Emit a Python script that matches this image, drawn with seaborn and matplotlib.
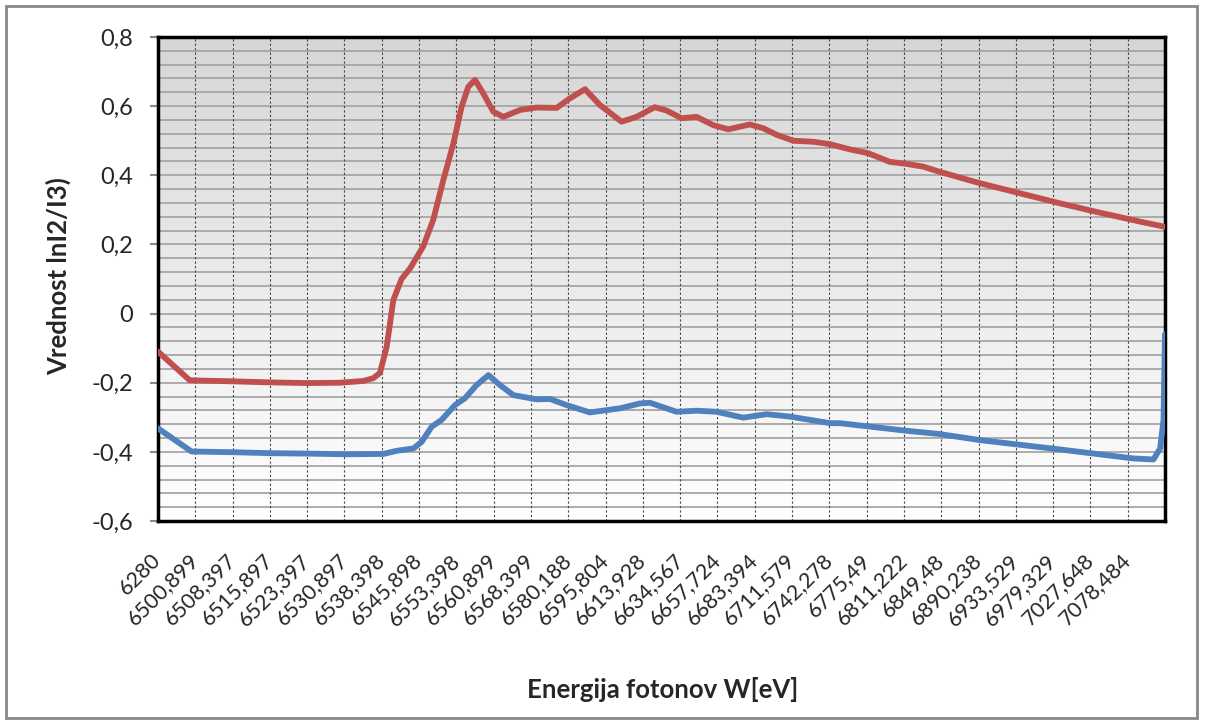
import numpy as np
import seaborn as sns
import matplotlib.pyplot as plt
from matplotlib.ticker import MultipleLocator, FixedLocator
from matplotlib.patches import Rectangle
from matplotlib.colors import LinearSegmentedColormap

# category labels (every 10th energy point) on the x axis
energy_labels = ["6280", "6500,899", "6508,397", "6515,897", "6523,397", "6530,897",
                 "6538,398", "6545,898", "6553,398", "6560,899", "6568,399", "6580,188",
                 "6595,804", "6613,928", "6634,567", "6657,724", "6683,394", "6711,579",
                 "6742,278", "6775,49", "6811,222", "6849,48", "6890,238", "6933,529",
                 "6979,329", "7027,648", "7078,484"]

# red series, position in label units
red_x = [0, 0.85, 2.0, 3.0, 4.0, 4.88, 5.5, 5.77, 5.95, 6.13, 6.31, 6.53, 6.76,
         7.11, 7.38, 7.65, 7.92, 8.14, 8.32, 8.5, 8.72, 8.99, 9.26, 9.71, 10.15,
         10.69, 11.05, 11.45, 11.85, 12.43, 12.83, 13.32, 13.64, 14.04, 14.44,
         14.89, 15.29, 15.87, 16.23, 16.59, 17.03, 17.57, 18.02, 18.55, 19.04,
         19.62, 20.07, 20.52, 20.96, 22.04, 23.11, 24.18, 25.25, 26.33, 27.0]
red_y = [-0.11, -0.193, -0.196, -0.199, -0.201, -0.2, -0.195, -0.187, -0.172, -0.097,
         0.039, 0.1, 0.131, 0.194, 0.271, 0.386, 0.492, 0.598, 0.656, 0.676, 0.637,
         0.584, 0.569, 0.589, 0.596, 0.595, 0.623, 0.649, 0.603, 0.555, 0.569,
         0.597, 0.587, 0.565, 0.569, 0.545, 0.533, 0.547, 0.536, 0.517, 0.5, 0.497,
         0.49, 0.475, 0.464, 0.439, 0.433, 0.425, 0.41, 0.377, 0.348, 0.319, 0.292,
         0.266, 0.251]

# blue series
blue_x = [0, 0.9, 2.0, 3.09, 4.0, 5.06, 6.04, 6.4, 6.85, 7.07, 7.34, 7.6, 7.96, 8.23,
          8.54, 8.86, 9.17, 9.53, 10.15, 10.51, 10.96, 11.58, 12.39, 12.92, 13.19,
          13.9, 14.44, 14.97, 15.69, 16.32, 16.94, 18.02, 18.28, 19.09, 20.07, 20.92,
          22.04, 24.18, 26.15, 26.69, 26.87, 26.96, 27.0]
blue_y = [-0.332, -0.399, -0.401, -0.404, -0.405, -0.407, -0.406, -0.397, -0.39, -0.371,
          -0.327, -0.308, -0.265, -0.245, -0.207, -0.178, -0.207, -0.236, -0.248,
          -0.247, -0.265, -0.286, -0.274, -0.26, -0.258, -0.284, -0.281, -0.284,
          -0.301, -0.291, -0.298, -0.317, -0.317, -0.327, -0.339, -0.348, -0.366,
          -0.393, -0.419, -0.422, -0.39, -0.308, -0.06]

y_ticks = [-0.6, -0.4, -0.2, 0, 0.2, 0.4, 0.6, 0.8]
y_labels = ["-0,6", "-0,4", "-0,2", "0", "0,2", "0,4", "0,6", "0,8"]

sns.set_style("white")
plt.rcParams['font.family'] = ['Lato', 'DejaVu Sans']

fig = plt.figure(figsize=(12.12, 7.27), dpi=100)
ax = fig.add_axes([158 / 1212, 1 - 521 / 727, (1165 - 158) / 1212, (521 - 37) / 727])

# grey to white gradient in plot area
grad = np.linspace(0, 1, 256).reshape(-1, 1)
ax.imshow(grad, extent=[0, 27, -0.6, 0.8], aspect='auto', origin='upper',
          cmap=LinearSegmentedColormap.from_list('g', ['#d6d6d6', '#ffffff']),
          zorder=0)

sns.lineplot(x=red_x, y=red_y, color='#C0504D', linewidth=4.2, sort=False, ax=ax,
             zorder=3, solid_capstyle='round')
sns.lineplot(x=blue_x, y=blue_y, color='#4F81BD', linewidth=4.2, sort=False, ax=ax,
             zorder=3, solid_capstyle='round')

ax.set_xlim(0, 27)
ax.set_ylim(-0.6, 0.8)

ax.yaxis.set_major_locator(FixedLocator(y_ticks))
ax.set_yticklabels(y_labels)
ax.yaxis.set_minor_locator(MultipleLocator(0.04))
ax.grid(which='both', axis='y', color='#a6a6a6', linewidth=1.3, zorder=1)

ax.set_xticks(range(len(energy_labels)))
ax.set_xticklabels(energy_labels, rotation=45, ha='right', va='center',
                   rotation_mode='anchor', fontsize=15.5)
for i in range(1, 27):
    ax.axvline(i, color='#444444', linewidth=0.8, linestyle=(0, (2, 2)), zorder=1)

ax.tick_params(axis='x', length=0, pad=26)
ax.tick_params(axis='y', which='major', left=True, length=6, width=1.5, color='#888888',
               labelsize=17, pad=12)
ax.tick_params(axis='y', which='minor', left=False)
ax.set_axisbelow(True)

for s in ax.spines.values():
    s.set_visible(True)
    s.set_color('black')
    s.set_linewidth(2.5)

ax.set_xlabel("")
ax.set_ylabel("")
fig.text(663 / 1212, 1 - 690 / 727, "Energija fotonov W[eV]", ha='center', va='center',
         fontsize=18.5, fontweight='bold')
fig.text(58 / 1212, 1 - 276 / 727, "Vrednost lnI2/I3)", ha='center', va='center',
         rotation=90, fontsize=18.5, fontweight='bold')

fig.add_artist(Rectangle((6 / 1212, 9 / 727), 1191 / 1212, 712 / 727, transform=fig.transFigure,
                         fill=False, edgecolor='#888888', linewidth=2))

fig.savefig("out.png", dpi=100)
